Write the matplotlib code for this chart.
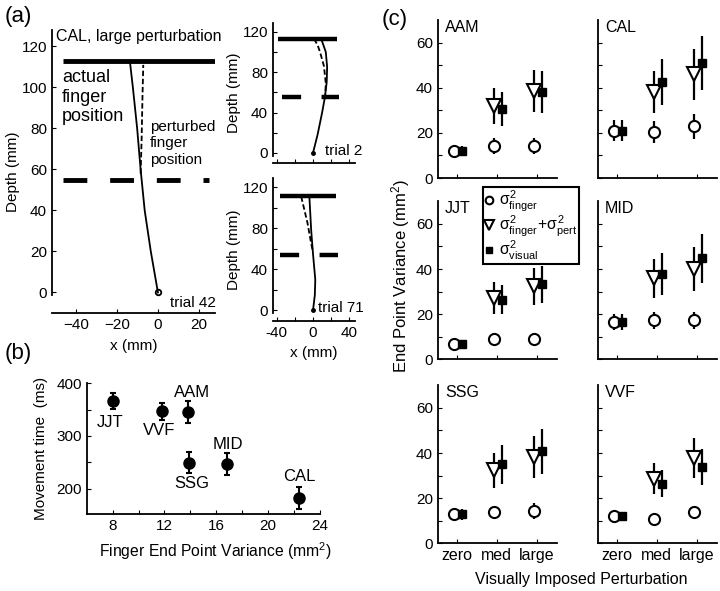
import matplotlib.pyplot as plt
from matplotlib.lines import Line2D

plt.rcParams['font.family'] = ['Liberation Sans', 'DejaVu Sans']
plt.rcParams['mathtext.fontset'] = 'custom'
plt.rcParams['mathtext.rm'] = 'Liberation Sans'
plt.rcParams['mathtext.it'] = 'Liberation Sans'
plt.rcParams['font.size'] = 11
plt.rcParams['xtick.direction'] = 'in'
plt.rcParams['ytick.direction'] = 'in'
plt.rcParams['axes.linewidth'] = 1.3

# ---- (a) finger trajectories
t42_x = [0, -3.5, -6.5, -8.5, -10.2, -12.3, -13.8]
t42_y = [0, 20, 40, 60, 80, 100, 113]
t42_pert_x = [-8.5, -8.0, -7.6, -7.2]
t42_pert_y = [58, 75, 95, 111]

t2_x = [0, 5, 10, 13, 15, 15.5, 14, 9]
t2_y = [0, 18, 40, 55, 70, 85, 100, 113]
t2_pert_x = [1, 5, 8, 12, 14, 13.5]
t2_pert_y = [113, 107, 99, 86, 69, 58]

t71_x = [0, 2, 2.5, 1, 0, -2, -4]
t71_y = [0, 15, 30, 45, 55, 78, 111]
t71_pert_x = [-13, -10, -6, -2, 0]
t71_pert_y = [111, 100, 85, 65, 57]

# ---- (b) movement time vs finger variance
b_names = ['JJT', 'VVF', 'AAM', 'SSG', 'MID', 'CAL']
b_var = [8.0, 11.8, 13.8, 13.9, 16.8, 22.4]
b_mt = [366, 347, 345, 249, 246, 182]
b_err = [15, 16, 21, 20, 21, 20]

# ---- (c) end point variance per subject, levels zero/med/large
c_names = ['AAM', 'CAL', 'JJT', 'MID', 'SSG', 'VVF']
levels = ['zero', 'med', 'large']
finger_mean = [[12.1, 14.1, 14.1], [21.0, 20.3, 23.0], [6.7, 9.2, 8.9],
               [16.6, 17.3, 17.3], [12.8, 13.7, 14.4], [12.0, 10.6, 13.7]]
finger_err = [[2.2, 3.5, 3.5], [4.8, 5.0, 5.5], [1.0, 1.5, 1.5],
              [3.5, 3.8, 3.8], [2.5, 3.0, 3.5], [2.0, 1.5, 3.0]]
pred_mean = [[32.1, 38.5], [38.0, 45.9], [27.1, 32.3],
             [35.9, 40.0], [32.4, 38.2], [28.7, 37.9]]
pred_err = [[8.0, 9.4], [9.4, 11.2], [7.0, 8.2],
            [8.7, 9.8], [7.7, 9.3], [6.8, 8.8]]
visual_mean = [[12.1, 30.4, 38.2], [21.0, 42.5, 50.9], [6.7, 26.4, 33.3],
               [16.6, 37.8, 44.7], [12.8, 35.0, 40.7], [12.0, 26.5, 33.8]]
visual_err = [[2.2, 7.5, 9.4], [4.8, 10.3, 12.0], [1.0, 6.5, 8.2],
              [3.5, 9.3, 10.7], [2.5, 8.5, 9.8], [2.0, 6.2, 8.1]]

fig = plt.figure(figsize=(7.2, 5.91), dpi=100)

# ---------- (a) main
ax = fig.add_axes([0.0722, 0.4704, 0.2264, 0.4788])
ax.set_xlim(-52, 28)
ax.set_ylim(-10, 128)
ax.plot([-46.4, 28.6], [113, 113], color='k', lw=3.5, solid_capstyle='butt')
ax.plot([-46.4, 25.2], [55, 55], color='k', lw=3.5, dashes=(4.9, 4.7),
        dash_capstyle='butt')
ax.plot(t42_x, t42_y, color='k', lw=1.3)
ax.plot(t42_pert_x, t42_pert_y, color='k', lw=1.3, dashes=(3, 1.5))
ax.plot([0], [0], 'o', mfc='none', mec='k', ms=4, mew=1.3)
ax.text(-50, 125, 'CAL, large perturbation', fontsize=11.5, va='center')
ax.text(-47, 109, 'actual\nfinger\nposition', fontsize=13, va='top',
        linespacing=1.2)
ax.text(-4, 84, 'perturbed\nfinger\nposition', fontsize=11, va='top',
        linespacing=1.2)
ax.text(6, -5, 'trial 42', fontsize=11, va='center')
ax.set_xticks([-40, -20, 0, 20])
ax.set_yticks([0, 20, 40, 60, 80, 100, 120])
ax.spines[['top', 'right']].set_visible(False)
ax.spines['left'].set_bounds(-1, 128)
ax.tick_params(length=3)
ax.set_ylabel('Depth (mm)', labelpad=1)
ax.set_xlabel('x (mm)', labelpad=5)


def small_traj(rect, tx, ty, px, py, target_y, pert_y, solid_span, dash_span,
               label, label_x):
    a = fig.add_axes(rect)
    a.set_xlim(-44, 46)
    a.set_ylim(-10, 129)
    a.plot(solid_span, [target_y, target_y], color='k', lw=3.2,
           solid_capstyle='butt')
    a.plot(dash_span, [pert_y, pert_y], color='k', lw=3.2, dashes=(4.3, 4.6),
           dash_capstyle='butt')
    a.plot(tx, ty, color='k', lw=1.3)
    a.plot(px, py, color='k', lw=1.3, dashes=(3, 1.5))
    a.plot([tx[0]], [ty[0]], 'o', color='k', ms=2.5)
    a.text(label_x, 2, label, fontsize=11, va='center', clip_on=False)
    a.set_xticks([-40, -20, 0, 20, 40])
    a.set_xticklabels(['-40', '', '0', '', '40'])
    a.set_yticks([0, 20, 40, 60, 80, 100, 120])
    a.set_yticklabels(['0', '', '40', '', '80', '', '120'])
    a.spines[['top', 'right']].set_visible(False)
    a.spines['left'].set_bounds(-3, 129)
    a.tick_params(length=3)
    a.set_ylabel('Depth (mm)', labelpad=1)
    return a


ax2 = small_traj([0.379, 0.7242, 0.114, 0.2374], t2_x, t2_y, t2_pert_x, t2_pert_y,
                 113, 55, [-38, 26], [-34, 29], 'trial 2', 13)
ax2.tick_params(labelbottom=False)
ax3 = small_traj([0.379, 0.4574, 0.114, 0.2414], t71_x, t71_y, t71_pert_x,
                 t71_pert_y, 111, 54, [-36, 25], [-36, 27], 'trial 71', 6)
ax3.set_xlabel('x (mm)', labelpad=5)

# ---------- (b)
axb = fig.add_axes([0.1204, 0.1298, 0.324, 0.2216])
axb.errorbar(b_var, b_mt, yerr=b_err, fmt='o', color='k', ms=8, capsize=2,
             elinewidth=1.5, capthick=1.5)
b_label_pos = [(7.8, 325), (11.6, 311), (14.1, 382), (14.1, 209), (16.9, 284), (22.4, 223)]
for name, (lx, ly) in zip(b_names, b_label_pos):
    axb.text(lx, ly, name, fontsize=12, ha='center', va='center')
axb.set_xlim(6, 24)
axb.set_ylim(151, 400)
axb.set_xticks([8, 10, 12, 14, 16, 18, 20, 22, 24])
axb.set_xticklabels(['8', '', '12', '', '16', '', '20', '', '24'])
axb.set_yticks([200, 250, 300, 350, 400])
axb.set_yticklabels(['200', '', '300', '', '400'])
axb.spines[['top', 'right']].set_visible(False)
axb.tick_params(length=3)
axb.set_xlabel('Finger End Point Variance (mm$^2$)', fontsize=11.3)
axb.xaxis.set_label_coords(0.55, -0.2)
axb.set_ylabel('Movement time  (ms)', labelpad=6, fontsize=11)

# ---------- (c)
col_left = [0.6079, 0.8301]
row_bottom = [0.6988, 0.3920, 0.0807]
xs = [1, 2, 3]
for i, name in enumerate(c_names):
    r, c = divmod(i, 2)
    a = fig.add_axes([col_left[c], row_bottom[r], 0.1653, 0.2673])
    xc = [x - 0.07 for x in xs]
    xv = [x + 0.12 for x in xs]
    a.errorbar(xc, finger_mean[i], yerr=finger_err[i], fmt='none', ecolor='k', elinewidth=1.6)
    a.errorbar(xc[1:], pred_mean[i], yerr=pred_err[i], fmt='none', ecolor='k', elinewidth=1.6)
    a.errorbar(xv, visual_mean[i], yerr=visual_err[i], fmt='none', ecolor='k', elinewidth=1.6)
    a.plot(xc, finger_mean[i], 'o', mfc='white', mec='k', ms=8, mew=1.5, ls='none')
    a.plot(xc[1:], pred_mean[i], 'v', mfc='white', mec='k', ms=9.5, mew=1.5, ls='none')
    a.plot(xv, visual_mean[i], 's', mfc='k', mec='k', ms=6, ls='none')
    a.text(0.06, 0.955, name, transform=a.transAxes, fontsize=11.5, va='center')
    a.set_xlim(0.52, 3.5)
    a.set_ylim(0, 70)
    a.set_xticks(xs)
    a.set_yticks([0, 10, 20, 30, 40, 50, 60])
    if c == 0:
        a.set_yticklabels(['0', '', '20', '', '40', '', '60'])
    else:
        a.set_yticklabels([])
    if r == 2:
        a.set_xticklabels(levels, fontsize=11.5)
    else:
        a.set_xticklabels([])
    a.spines[['top', 'right']].set_visible(False)
    a.tick_params(length=3)

leg_handles = [
    Line2D([], [], marker='o', mfc='white', mec='k', ms=5.5, mew=1.5, ls='none'),
    Line2D([], [], marker='v', mfc='white', mec='k', ms=6.5, mew=1.5, ls='none'),
    Line2D([], [], marker='s', mfc='k', mec='k', ms=5, ls='none'),
]
leg = fig.legend(leg_handles,
                 [r'$\sigma^2_{\mathrm{finger}}$',
                  r'$\sigma^2_{\mathrm{finger}}\!+\!\sigma^2_{\mathrm{pert}}$',
                  r'$\sigma^2_{\mathrm{visual}}$'],
                 loc='upper left', bbox_to_anchor=(0.6708, 0.6836),
                 borderaxespad=0, fontsize=11.3, fancybox=False, framealpha=1,
                 edgecolor='k', handlelength=0.6, handletextpad=0.3,
                 borderpad=0.1, labelspacing=0.0)
leg.get_frame().set_linewidth(1.5)

fig.text(0.556, 0.533, 'End Point Variance (mm$^2$)', rotation=90,
         ha='center', va='center', fontsize=12)
fig.text(0.807, 0.0203, 'Visually Imposed Perturbation', ha='center',
         va='center', fontsize=11.5)

fig.text(0.007, 0.99, '(a)', fontsize=16, va='top')
fig.text(0.007, 0.42, '(b)', fontsize=16, va='top')
fig.text(0.5306, 0.985, '(c)', fontsize=16, va='top')

fig.savefig('out.png', dpi=100)
